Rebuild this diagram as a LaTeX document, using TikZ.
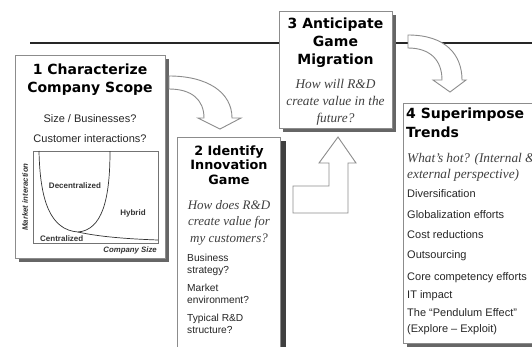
\documentclass[tikz,border=0pt]{standalone}
\usepackage{fontspec}
\setmainfont{Liberation Serif}
\setsansfont{Liberation Sans}
\newfontfamily\ttlfont{DejaVu Sans}
\tikzset{
  x=1pt, y=-1pt,
  box/.style={draw=black!45, line width=0.8pt, fill=white, inner sep=0, anchor=north west},
  shadowfill/.style={fill=black!60},
  blockarrow/.style={draw=black!45, line width=0.9pt, fill=white, line join=miter},
  ttl/.style={font=\ttlfont\bfseries\fontsize{14}{14}\selectfont, anchor=base, inner sep=0},
  ttlsmall/.style={font=\ttlfont\bfseries\fontsize{12.8}{12.8}\selectfont, anchor=base, inner sep=0},
  qst/.style={font=\itshape\fontsize{13.3}{13.3}\selectfont, anchor=base, inner sep=0, text=black!75},
  lst/.style={font=\sffamily\fontsize{11}{11}\selectfont, anchor=base west, inner sep=0, text=black!85},
  lstsmall/.style={font=\sffamily\fontsize{10.2}{10.2}\selectfont, anchor=base west, inner sep=0, text=black!85},
  cq/.style={font=\sffamily\fontsize{11}{11}\selectfont, anchor=base, inner sep=0, text=black!85},
  chartlbl/.style={font=\sffamily\bfseries\fontsize{8}{8}\selectfont, inner sep=0, text=black!80},
  axislbl/.style={font=\sffamily\bfseries\itshape\fontsize{7.8}{7.8}\selectfont, inner sep=0, text=black!80},
  curve/.style={draw=black!80, line width=0.7pt},
}
\begin{document}
\begin{tikzpicture}
\useasboundingbox (0,0) rectangle (532,346);
\clip (0,0) rectangle (532,346);
\fill[white] (0,0) rectangle (532,346);

% top rule
\coordinate (lineL) at (30,43);
\coordinate (lineR) at (540,43);
\draw[line width=2.6pt, black!85] (lineL) -- (lineR);

% ---------- Box 1 ----------
\fill[shadowfill] (19,59) rectangle (169,262);
\node[box, minimum width=150pt, minimum height=203pt] (b1) at (15,55) {};
\node[ttl] (t1a) at (90,74) {1 Characterize};
\node[ttl] (t1b) at (90,92) {Company Scope};
\node[cq] (q1a) at (90,122) {Size / Businesses?};
\node[cq] (q1b) at (90,142) {Customer interactions?};
% chart
\draw[draw=black!55, line width=0.6pt] (33,151) rectangle (158,243);
\draw[curve] (39,151) .. controls (40,200) and (50,230) .. (78,232);
\draw[curve] (78,232) .. controls (102,230) and (110,200) .. (110,151);
\draw[curve] (78,232) .. controls (100,237) and (130,239) .. (158,240);
\node[chartlbl] (dec) at (75,186) {Decentralized};
\node[chartlbl] (hyb) at (133,213) {Hybrid};
\node[chartlbl, anchor=west] (cen) at (40,238.5) {Centralized};
\node[axislbl, anchor=east] (xax) at (157,250) {Company Size};
\node[axislbl, rotate=90] (yax) at (25,197) {Market interaction};

% ---------- Arrow 1 -> 2 ----------
\coordinate (a1s) at (169,76);
\draw[blockarrow] (a1s) .. controls (207,76) and (232,92) .. (232,118)
  -- (241,118) -- (220,129) -- (198,118) -- (204,118)
  .. controls (204,100) and (192,89) .. (169,89) -- cycle;

% ---------- Box 2 ----------
\fill[black!75] (280,141) rectangle (286,360);
\node[box, minimum width=103pt, minimum height=230pt] (b2) at (177,137) {};
\node[ttlsmall] (t2a) at (229,155) {2 Identify};
\node[ttlsmall] (t2b) at (229,169.5) {Innovation};
\node[ttlsmall] (t2c) at (229,184) {Game};
\node[qst, font=\itshape\fontsize{13}{13}\selectfont] (q2a) at (229,209) {How does R\&D};
\node[qst, font=\itshape\fontsize{13}{13}\selectfont] (q2b) at (229,225.5) {create value for};
\node[qst, font=\itshape\fontsize{13}{13}\selectfont] (q2c) at (229,242.5) {my customers?};
\node[lstsmall] (l2a) at (187,261.5) {Business};
\node[lstsmall] (l2b) at (187,273.5) {strategy?};
\node[lstsmall] (l2c) at (187,291.5) {Market};
\node[lstsmall] (l2d) at (187,303.5) {environment?};
\node[lstsmall] (l2e) at (187,321) {Typical R\&D};
\node[lstsmall] (l2f) at (187,333) {structure?};

% ---------- Arrow 2 -> 3 ----------
\coordinate (a2s) at (293,213);
\draw[blockarrow] (a2s) -- (293,186) -- (329,186) -- (329,163) -- (319,163)
  -- (338,137) -- (356,163) -- (348,163) -- (348,213) -- cycle;

% ---------- Box 3 ----------
\fill[shadowfill] (283,15) rectangle (396,132);
\node[box, minimum width=113pt, minimum height=117pt] (b3) at (279,11) {};
\node[ttl] (t3a) at (335.5,28) {3 Anticipate};
\node[ttl] (t3b) at (335.5,46) {Game};
\node[ttl] (t3c) at (335.5,64) {Migration};
\node[qst] (q3a) at (335.5,88) {How will R\&D};
\node[qst] (q3b) at (335.5,105) {create value in the};
\node[qst] (q3c) at (335.5,122) {future?};

% ---------- Arrow 3 -> 4 ----------
\coordinate (a3s) at (408,35);
\draw[blockarrow] (a3s) .. controls (446,35) and (462,55) .. (462,80)
  -- (466,80) -- (450,92) -- (433,80) -- (442,80)
  .. controls (442,60) and (430,48) .. (408,48) -- cycle;

% ---------- Box 4 ----------
\fill[shadowfill] (407,107) rectangle (560,347);
\node[box, minimum width=150pt, minimum height=240pt] (b4) at (403,103) {};
\node[ttl, anchor=base west] (t4a) at (406,118) {4 Superimpose};
\node[ttl, anchor=base west] (t4b) at (406,137) {Trends};
\node[qst, anchor=base west] (q4a) at (407,162) {What's hot? (Internal \&};
\node[qst, anchor=base west] (q4b) at (407,178) {external perspective)};
\node[lst] (l4a) at (407,197) {Diversification};
\node[lst] (l4b) at (407,218) {Globalization efforts};
\node[lst] (l4c) at (407,238) {Cost reductions};
\node[lst] (l4d) at (407,258) {Outsourcing};
\node[lst] (l4e) at (407,280) {Core competency efforts};
\node[lst] (l4f) at (407,298) {IT impact};
\node[lst] (l4g) at (407,316.5) {The ``Pendulum Effect''};
\node[lst] (l4h) at (407,332.5) {(Explore -- Exploit)};
\end{tikzpicture}
\end{document}
